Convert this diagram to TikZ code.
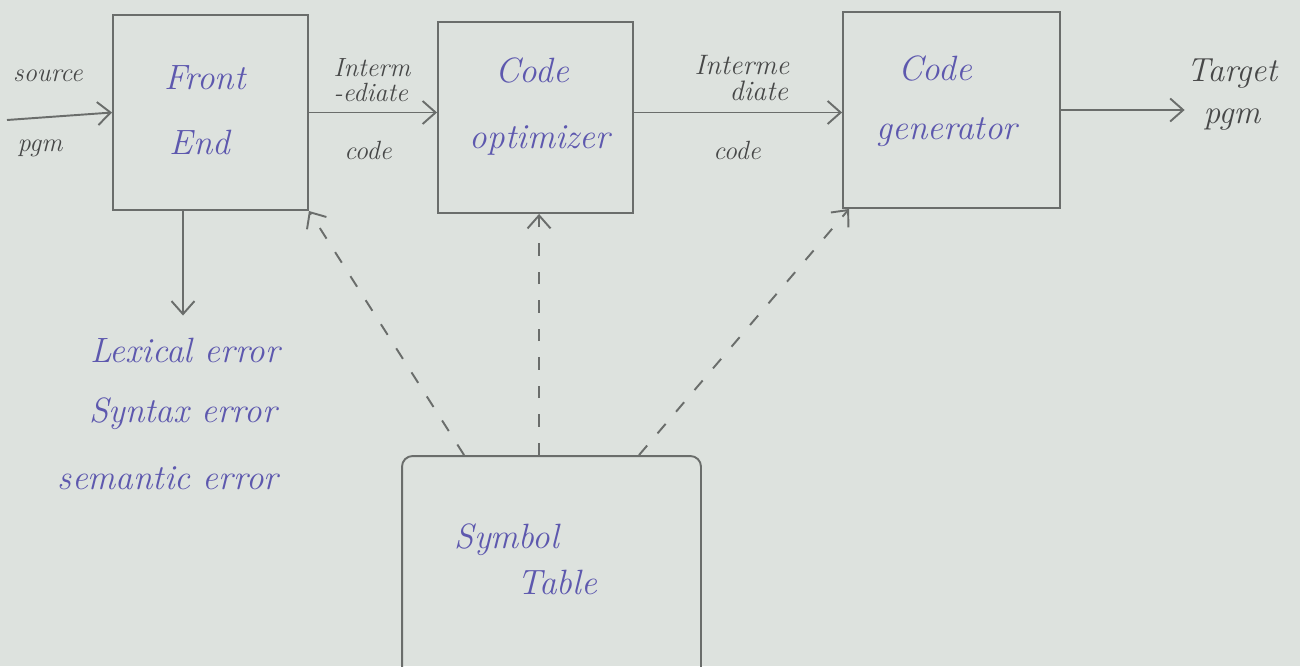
\documentclass[tikz,border=0pt]{standalone}
\usepackage{fontspec}
\usetikzlibrary{arrows.meta,calc}
\definecolor{paper}{HTML}{DDE2DE}
\definecolor{pencil}{HTML}{6A6D6B}
\definecolor{lead}{HTML}{474848}
\definecolor{ink}{HTML}{5D58AE}
\tikzset{
  stage/.style={draw=pencil, line width=1.1pt, inner sep=0pt},
  blue/.style={text=ink, font=\fontsize{20}{24}\selectfont\itshape, inner sep=1pt},
  note/.style={text=lead, font=\fontsize{15}{18}\selectfont\itshape, inner sep=1pt, align=center},
  flow/.style={draw=pencil, line width=1.1pt, -{Straight Barb[length=2.6mm,width=4.6mm]}},
  lookup/.style={flow, dash pattern=on 0.25cm off 0.32cm}
}
\begin{document}
\begin{tikzpicture}[x=0.02cm, y=-0.02cm]
\useasboundingbox (0,0) rectangle (1300,666);
\fill[paper] (0,0) rectangle (1300,666);

% pipeline stages
\node[stage, minimum width=3.9cm, minimum height=3.9cm] (fe) at (210.5,112.5) {};
\node[stage, minimum width=3.9cm, minimum height=3.82cm] (opt) at (535.5,117.5) {};
\node[stage, minimum width=4.34cm, minimum height=3.92cm] (gen) at (951.5,110) {};

% symbol table, open below the page edge
\begin{scope}
\clip (0,0) rectangle (1300,666);
\node[stage, rounded corners=6pt, minimum width=5.98cm, minimum height=5.6cm] (st) at (551.5,596) {};
\end{scope}

% stage names
\node[blue] (feA) at (205,78) {Front};
\node[blue] (feB) at (200,142) {End};
\node[blue] (optA) at (532,70) {Code};
\node[blue] (optB) at (540,140) {optimizer};
\node[blue] (genA) at (935,68) {Code};
\node[blue] (genB) at (947,132) {generator};
\node[blue] (stA) at (507,540) {Symbol};
\node[blue] (stB) at (557,582) {Table};

% input and output
\node[note] (src) at (48,76) {source};
\node[note] (srcB) at (40,148) {pgm};
\coordinate (in) at (7,120);
\node[note, font=\fontsize{19}{24}\selectfont\itshape] (tgt) at (1232,95) {Target\\pgm};

% intermediate code labels
\node[note, align=left] (ic1) at (372,80) {Interm\\[-4pt]-ediate};
\node[note] (ic1b) at (368,150) {code};
\node[note, font=\fontsize{16}{19}\selectfont\itshape] (ic2) at (742,78) {Interme\\[-4pt]\hspace*{1.2em}diate};
\node[note] (ic2b) at (737,150) {code};

% error list
\node[blue] (e1) at (185,350) {Lexical error};
\node[blue] (e2) at (183,414) {Syntax error};
\node[blue] (e3) at (168,478) {semantic error};

% main flow
\draw[flow] (in) -- (fe.west);
\draw[flow] (fe.east) -- (fe.east -| opt.west);
\draw[flow] (opt.east |- fe.east) -- (gen.west |- fe.east);
\draw[flow] (gen.east) -- (gen.east -| tgt.west);
\draw[flow] (fe.south -| e2) -- ([yshift=0.4cm]e1.north -| e2);

% symbol table lookups
\draw[lookup] ([xshift=1.26cm]st.north west) -- (fe.south east);
\draw[lookup] ([xshift=2.76cm]st.north west) -- ([xshift=2.76cm]st.north west |- opt.south);
\draw[lookup] ([xshift=4.76cm]st.north west) -- ([xshift=0.14cm]gen.south west);
\end{tikzpicture}
\end{document}
